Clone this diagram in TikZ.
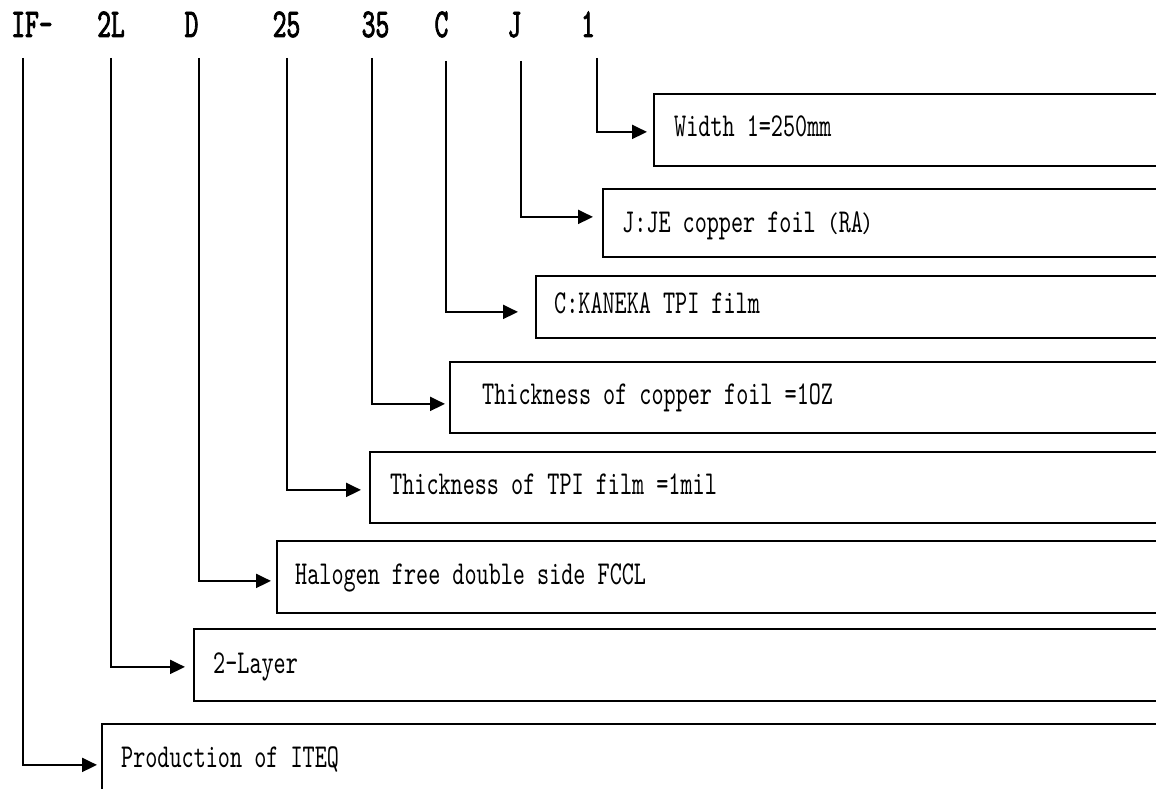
\documentclass[tikz,border=0pt]{standalone}
\usepackage{fontspec}
\usetikzlibrary{arrows.meta}
\newfontfamily\lblfont[FakeStretch=0.69]{lmmono10-regular.otf}
\newfontfamily\hdrfont[FakeStretch=0.64,FakeBold=2]{lmmono10-regular.otf}
\newfontfamily\cjkfont{Noto Sans CJK SC}
\newcommand{\fw}[1]{{\cjkfont\fontsize{23}{24}\selectfont #1}}
\tikzset{
  codebox/.style={draw=black, line width=1.8pt, anchor=north west, inner sep=0pt, fill=white},
  lbl/.style={anchor=base west, inner sep=0pt, font=\lblfont\fontsize{33.4}{36}\selectfont},
  hdr/.style={anchor=base, inner sep=0pt, font=\hdrfont\fontsize{41}{44}\selectfont},
  conn/.style={line width=2pt, -{Triangle[length=15pt,width=14pt]}}
}
\begin{document}
\begin{tikzpicture}[x=1pt,y=-1pt]
\useasboundingbox (0,0) rectangle (1156,789);
\clip (0,0) rectangle (1156,789);
% header
\node[hdr] (h1) at (32,37) {IF-};
\node[hdr] (h2) at (111,37) {2L};
\node[hdr] (h3) at (191.5,37) {D};
\node[hdr] (h4) at (286.5,37) {25};
\node[hdr] (h5) at (375.5,37) {35};
\node[hdr] (h6) at (441.5,37) {C};
\node[hdr] (h7) at (514.5,37) {J};
\node[hdr] (h8) at (588,37) {1};
% line tops
\coordinate (t1) at (23,58);
\coordinate (t2) at (111,58);
\coordinate (t3) at (199,58);
\coordinate (t4) at (287,58);
\coordinate (t5) at (372,58);
\coordinate (t6) at (446,61);
\coordinate (t7) at (521,61);
\coordinate (t8) at (597,58);
% boxes
\node[codebox, minimum width=522pt, minimum height=72pt] (b1) at (653,93) {};
\node[codebox, minimum width=573pt, minimum height=68pt] (b2) at (602,188) {};
\node[codebox, minimum width=640pt, minimum height=62pt] (b3) at (535,275) {};
\node[codebox, minimum width=726pt, minimum height=71pt] (b4) at (449,361) {};
\node[codebox, minimum width=806pt, minimum height=71pt] (b5) at (369,451) {};
\node[codebox, minimum width=899pt, minimum height=72pt] (b6) at (276,540) {};
\node[codebox, minimum width=982pt, minimum height=72pt] (b7) at (193,628) {};
\node[codebox, minimum width=1074pt, minimum height=72pt] (b8) at (101,723) {};
% labels
\node[lbl] (l1) at (674,136) {Width 1=250mm};
\node[lbl] (l2) at (622,232) {J:JE copper foil\fw{（}RA\fw{）}};
\node[lbl] (l3) at (554,313) {C:KANEKA TPI film};
\node[lbl] (l4) at (482,404) {Thickness of copper foil =1OZ};
\node[lbl] (l5) at (390,494) {Thickness of TPI film =1mil};
\node[lbl] (l6) at (295,584) {Halogen free double side FCCL};
\node[lbl] (l7) at (213,673) {2-Layer};
\node[lbl] (l8) at (121,767) {Production of ITEQ};
% connectors
\draw[conn] (t8) |- ([xshift=-6pt,yshift=-2pt]b1.west);
\draw[conn] (t7) |- ([xshift=-9pt,yshift=6pt]b2.west);
\draw[conn] (t6) |- ([xshift=-17pt,yshift=-5pt]b3.west);
\draw[conn] (t5) |- ([xshift=-4pt,yshift=-6.5pt]b4.west);
\draw[conn] (t4) |- ([xshift=-8pt,yshift=-2.5pt]b5.west);
\draw[conn] (t3) |- ([xshift=-5pt,yshift=-4pt]b6.west);
\draw[conn] (t2) |- ([xshift=-8pt,yshift=-2pt]b7.west);
\draw[conn] (t1) |- ([xshift=-4pt,yshift=-5pt]b8.west);
\end{tikzpicture}
\end{document}
